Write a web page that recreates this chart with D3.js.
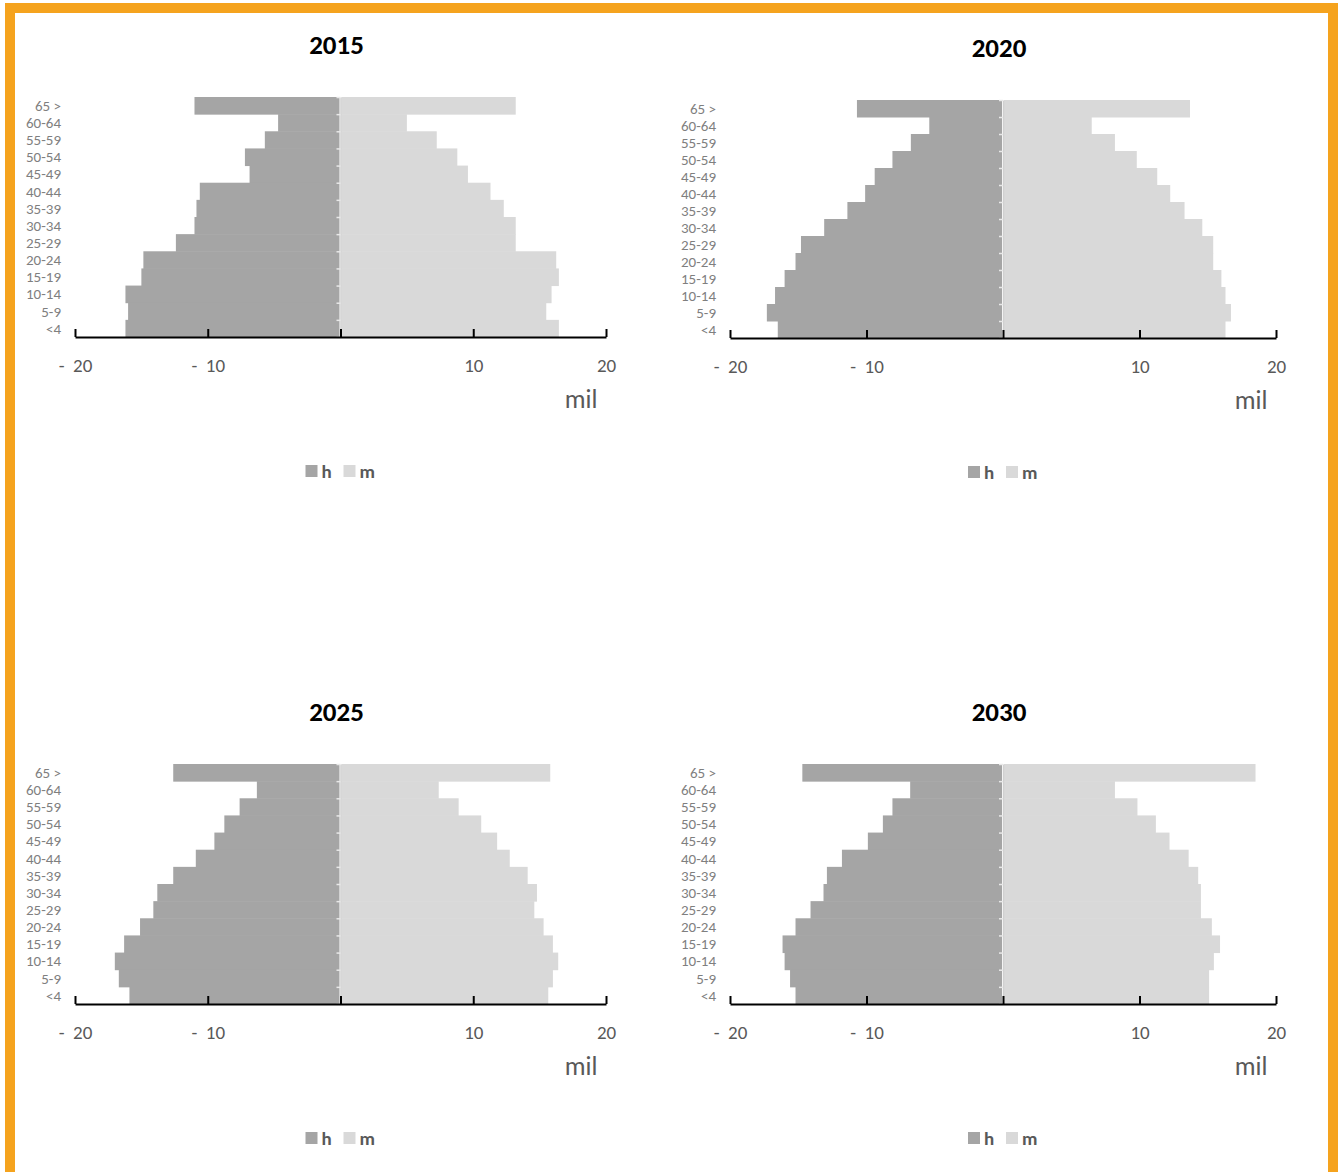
<!DOCTYPE html>
<html>
<head>
<meta charset="utf-8">
<script src="https://cdn.jsdelivr.net/npm/d3@7.9.0/dist/d3.min.js"></script>
<style>
  body { margin: 0; background: #fff; }
  svg { display: block; }
</style>
</head>
<body>
<div id="chart"></div>
<script>
// age groups, top to bottom
const ages = ["65 >", "60-64", "55-59", "50-54", "45-49", "40-44", "35-39",
  "30-34", "25-29", "20-24", "15-19", "10-14", "5-9", "<4"];

const years = ["2015", "2020", "2025", "2030"];

// hombres (thousands), same order as ages
const h2015 = [11.0, 4.7, 5.7, 7.2, 6.85, 10.6, 10.85, 11.0, 12.4, 14.85, 15.0, 16.2, 16.0, 16.2];
const h2020 = [10.7, 5.4, 6.75, 8.1, 9.4, 10.1, 11.4, 13.1, 14.8, 15.2, 16.0, 16.7, 17.3, 16.5];
const h2025 = [12.6, 6.3, 7.6, 8.75, 9.5, 10.9, 12.6, 13.8, 14.1, 15.1, 16.3, 17.0, 16.7, 15.9];
const h2030 = [14.7, 6.8, 8.1, 8.8, 9.9, 11.8, 12.9, 13.15, 14.1, 15.2, 16.15, 16.0, 15.6, 15.2];

// mujeres (thousands)
const m2015 = [13.2, 5.0, 7.25, 8.8, 9.6, 11.3, 12.3, 13.2, 13.2, 16.25, 16.45, 15.9, 15.5, 16.45];
const m2020 = [13.7, 6.5, 8.2, 9.8, 11.3, 12.25, 13.3, 14.6, 15.4, 15.4, 16.0, 16.3, 16.7, 16.3];
const m2025 = [15.8, 7.4, 8.9, 10.6, 11.8, 12.75, 14.1, 14.8, 14.6, 15.3, 16.0, 16.4, 16.0, 15.65];
const m2030 = [18.5, 8.2, 9.85, 11.2, 12.2, 13.6, 14.3, 14.5, 14.5, 15.3, 15.9, 15.45, 15.1, 15.1];

const xTicks = [-20, -10, 0, 10, 20];
const legendKeys = ["h", "m"];

const hombres = [h2015, h2020, h2025, h2030];
const mujeres = [m2015, m2020, m2025, m2030];

const width = 1338;
const height = 1172;
const colorH = "#A5A5A5";
const colorM = "#D9D9D9";
const textGray = "#595959";
const font = "Carlito, Calibri, 'Liberation Sans Narrow', 'Open Sans', sans-serif";

// panel boxes: left/right edge of the x axis, top of bars, axis line
const panels = [
  { left: 75, right: 606, top: 97, bottom: 337 },
  { left: 730, right: 1276, top: 100, bottom: 338 },
  { left: 75, right: 606, top: 764, bottom: 1004 },
  { left: 730, right: 1276, top: 764, bottom: 1004 }
];

const svg = d3.select("#chart")
  .append("svg")
  .attr("width", width)
  .attr("height", height);

// orange frame
svg.append("rect")
  .attr("x", 10).attr("y", 8)
  .attr("width", 1323).attr("height", 1169)
  .attr("fill", "none")
  .attr("stroke", "#F5A31E")
  .attr("stroke-width", 10);

function drawPyramid(i) {
  const p = panels[i];
  const g = svg.append("g");

  const x = d3.scaleLinear().domain([-20, 20]).range([p.left, p.right]);
  const y = d3.scaleBand().domain(ages).range([p.top, p.bottom]).padding(0);
  const cx = x(0);

  const rows = ages.map((a, k) => ({ age: a, h: hombres[i][k], m: mujeres[i][k] }));

  // title
  g.append("text")
    .attr("x", cx - 4)
    .attr("y", p.top - 43)
    .attr("text-anchor", "middle")
    .attr("font-family", font)
    .attr("font-weight", "bold")
    .attr("font-size", 27)
    .attr("fill", "#000")
    .text(years[i]);

  // hombres to the left
  g.append("g").selectAll("rect")
    .data(rows)
    .join("rect")
    .attr("x", d => x(-d.h))
    .attr("y", d => y(d.age))
    .attr("width", d => cx - 1 - x(-d.h))
    .attr("height", y.bandwidth() + 0.5)
    .attr("fill", colorH);

  // mujeres to the right
  g.append("g").selectAll("rect")
    .data(rows)
    .join("rect")
    .attr("x", cx + 1)
    .attr("y", d => y(d.age))
    .attr("width", d => x(d.m) - cx - 1)
    .attr("height", y.bandwidth() + 0.5)
    .attr("fill", colorM);

  // center axis with small ticks between age groups
  const yEdges = d3.scaleLinear().domain([0, ages.length]).range([p.top, p.bottom]);
  g.append("g")
    .attr("transform", `translate(${cx},0)`)
    .call(d3.axisLeft(yEdges).ticks(ages.length).tickFormat("").tickSize(4).tickSizeOuter(0))
    .call(s => s.select(".domain").attr("stroke", "#D0D0D0").attr("stroke-width", 1.5))
    .call(s => s.selectAll(".tick line").attr("stroke", "#E8E8E8").attr("stroke-width", 1.5));

  // age labels
  g.append("g").selectAll("text")
    .data(ages)
    .join("text")
    .attr("x", p.left - 14)
    .attr("y", d => y(d) + y.bandwidth() / 2)
    .attr("dy", "0.35em")
    .attr("text-anchor", "end")
    .attr("font-family", font)
    .attr("font-size", 15)
    .attr("fill", "#7F7F7F")
    .text(d => d);

  // x axis, ticks pointing up
  g.append("g")
    .attr("transform", `translate(0,${p.bottom})`)
    .call(d3.axisBottom(x)
      .tickValues(xTicks)
      .tickFormat(d => d === 0 ? "" : (d < 0 ? "-  " + Math.abs(d) : d))
      .tickSizeInner(-8)
      .tickSizeOuter(0)
      .tickPadding(22))
    .call(s => s.select(".domain").attr("stroke", "#000").attr("stroke-width", 2))
    .call(s => s.selectAll(".tick line").attr("stroke", "#000").attr("stroke-width", 2))
    .call(s => s.selectAll(".tick text")
      .attr("font-family", font)
      .attr("font-size", 19)
      .attr("fill", textGray)
      .style("white-space", "pre"));

  // unit label
  g.append("text")
    .attr("x", p.right - 25)
    .attr("y", p.bottom + 71)
    .attr("text-anchor", "middle")
    .attr("font-family", font)
    .attr("font-size", 26)
    .attr("fill", textGray)
    .text("mil");

  // legend
  const lg = g.append("g").attr("transform", `translate(${cx - 35},${p.bottom + 134})`);
  legendKeys.forEach((k, j) => {
    const item = lg.append("g").attr("transform", `translate(${j * 38},0)`);
    item.append("rect")
      .attr("x", 0).attr("y", -6)
      .attr("width", 12).attr("height", 12)
      .attr("fill", k === "h" ? colorH : colorM);
    item.append("text")
      .attr("x", 16)
      .attr("y", 0)
      .attr("dy", "0.35em")
      .attr("font-family", font)
      .attr("font-weight", "bold")
      .attr("font-size", 19)
      .attr("fill", textGray)
      .text(k);
  });
}

years.forEach((yr, i) => drawPyramid(i));
</script>
</body>
</html>
